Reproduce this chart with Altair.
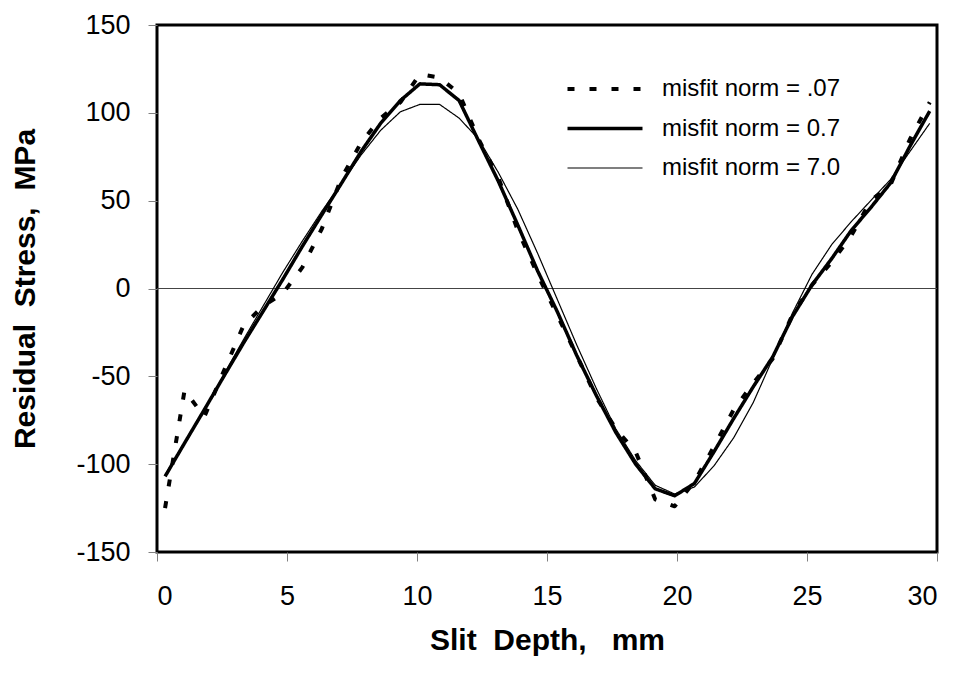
import altair as alt
import pandas as pd

# ---- data ----
depth = [0.31, 1.06, 1.82, 2.57, 3.33, 4.08, 4.83, 5.59, 6.34, 7.10,
         7.85, 8.60, 9.36, 10.11, 10.87, 11.62, 12.37, 13.13, 13.88, 14.64,
         15.39, 16.14, 16.90, 17.65, 18.41, 19.16, 19.91, 20.67, 21.42, 22.18,
         22.93, 23.68, 24.44, 25.19, 25.95, 26.70, 27.45, 28.21, 28.96, 29.72]

stress_norm_007 = [-125, -58, -73, -47, -21, -10, -3, 12, 34, 63,
                   83, 97, 106, 122, 120, 111, 85, 63, 33, 8,
                   -15, -38, -62, -80, -93, -120, -124, -110, -90, -69,
                   -54, -40, -15, 2, 15, 30, 50, 59, 85, 106]

stress_norm_07 = [-107, -88, -69, -50, -31, -13, 5, 24, 42, 60,
                  78, 94, 107, 116.5, 116, 107, 84, 61, 36, 10,
                  -13, -38, -61, -82, -100, -114, -118, -111, -93, -74,
                  -56, -39, -16, 2, 17, 33, 46, 60, 81, 101]

stress_norm_70 = [-106, -88, -69, -49, -29, -10, 9, 27, 44, 60,
                  76, 90, 100.6, 104.8, 104.8, 97, 85, 66, 45, 20,
                  -6, -32, -57, -80, -98, -112, -117, -113, -101, -85,
                  -65, -40, -14, 8, 25, 38, 50, 62, 78, 94]

series_labels = ["misfit norm = .07", "misfit norm = 0.7", "misfit norm = 7.0"]
x_ticks = [0, 5, 10, 15, 20, 25, 30]
y_ticks = [-150, -100, -50, 0, 50, 100, 150]
zero_line = [0]

rows = []
for lab, vals in zip(series_labels, [stress_norm_007, stress_norm_07, stress_norm_70]):
    for d, v in zip(depth, vals):
        rows.append({"depth": d, "stress": v, "series": lab})
df = pd.DataFrame(rows)

FONT = "Liberation Sans"
NB = "\u00a0"

x_enc = alt.X(
    "depth:Q",
    scale=alt.Scale(domain=[0, 30], nice=False, zero=False),
    axis=alt.Axis(values=x_ticks, title=f"Slit{NB}{NB}Depth,{NB}{NB}{NB}mm",
                  labelExpr="datum.value + ''"),
)
y_enc = alt.Y(
    "stress:Q",
    scale=alt.Scale(domain=[-150, 150], nice=False),
    axis=alt.Axis(values=y_ticks, title=f"Residual{NB}{NB}Stress,{NB}{NB}MPa",
                  labelExpr="datum.value + ''"),
)

lines = alt.Chart(df).mark_line(color="black", strokeCap="butt", strokeJoin="round").encode(
    x=x_enc,
    y=y_enc,
    strokeDash=alt.StrokeDash(
        "series:N",
        scale=alt.Scale(type="ordinal", domain=series_labels, range=[[7, 15], [1, 0], [1, 0]]),
        legend=alt.Legend(title=None),
    ),
    strokeWidth=alt.StrokeWidth(
        "series:N",
        scale=alt.Scale(type="ordinal", domain=series_labels, range=[4, 3.5, 1.2]),
        legend=alt.Legend(title=None),
    ),
    order=alt.Order("series:N", sort="descending"),
)

zero = alt.Chart(pd.DataFrame({"y": zero_line})).mark_rule(color="#444444", strokeWidth=1).encode(
    y=alt.Y("y:Q", scale=alt.Scale(domain=[-150, 150], nice=False))
)

chart = (
    alt.layer(zero, lines)
    .properties(
        width=780,
        height=527,
        autosize=alt.AutoSizeParams(type="none"),
        padding={"left": 149, "top": 17, "right": 19, "bottom": 117},
    )
    .configure_view(stroke="black", strokeWidth=3)
    .configure_axis(
        domain=False,
        grid=False,
        ticks=True,
        tickColor="#808080",
        tickSize=9,
        tickWidth=1,
        labelFont=FONT,
        labelFontSize=27,
        labelColor="black",
        titleFont=FONT,
        titleFontSize=30,
        titleFontWeight="bold",
        titleColor="black",
    )
    .configure_axisX(labelPadding=22, titlePadding=16)
    .configure_axisY(labelPadding=18, titlePadding=35)
    .configure_legend(
        orient="none",
        legendX=436,
        legendY=52,
        symbolType="M-5,0H5",
        symbolSize=225,
        symbolStrokeColor="black",
        labelFont=FONT,
        labelFontSize=24,
        labelColor="black",
        labelOffset=45,
        labelLimit=0,
        rowPadding=15.5,
    )
)

chart.save("out.html", embed_options={"renderer": "svg", "actions": False})
